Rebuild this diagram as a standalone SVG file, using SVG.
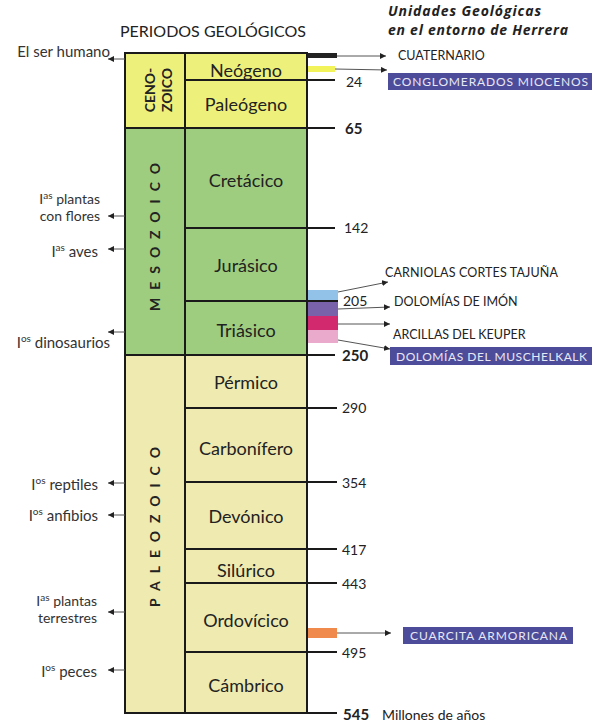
<svg xmlns="http://www.w3.org/2000/svg" width="593" height="724" viewBox="0 0 593 724">
<defs>
<marker id="ah" viewBox="0 0 6 6" refX="6" refY="3" markerWidth="6" markerHeight="6" markerUnits="userSpaceOnUse" orient="auto"><path d="M0,0 L6,3 L0,6 z" fill="#222"/></marker>
<style>
text{font-family:Lato,"Open Sans","Liberation Sans",sans-serif;fill:#222}
.per{font-size:18px;text-anchor:middle}
.era{font-size:14px;font-weight:bold;text-anchor:middle}
.num{font-size:14px}
.numb{font-size:15px;font-weight:bold}
.lbl{font-size:15px;text-anchor:end;fill:#333}
.lbl2{font-size:14px;text-anchor:end;fill:#333}
.sup{font-size:10px}
.unit{font-size:12.5px;fill:#222}
.boxt{font-size:12px;fill:#e8e8f4}
.hdr{font-family:"Open Sans",Lato,sans-serif;font-size:14px;font-weight:bold;font-style:italic}
.frame{stroke:#1a1a1a;stroke-width:2;fill:none}
.tick{stroke:#1a1a1a;stroke-width:2}
.arr{stroke:#555;stroke-width:1;fill:none;marker-end:url(#ah)}
.box{fill:#4d4c9a}
</style>
</defs>
<g id="header">
<text x="213" y="37" style="font-size:16px;text-anchor:middle">PERIODOS GEOLÓGICOS</text>
<text class="hdr" x="388" y="16" textLength="153" lengthAdjust="spacing">Unidades Geológicas</text>
<text class="hdr" x="388" y="35" textLength="180" lengthAdjust="spacing">en el entorno de Herrera</text>
</g>
<g id="eras">
<rect x="125" y="53" width="182" height="75" fill="#eef07c"/>
<rect x="125" y="128" width="182" height="227" fill="#9fcd7f"/>
<rect x="125" y="355" width="182" height="358" fill="#eeeab0"/>
</g>
<g id="bars">
<rect x="307" y="53" width="30" height="5" fill="#222"/>
<rect x="307" y="66" width="28" height="6" fill="#f2f25a"/>
<rect x="308" y="290" width="30" height="11" fill="#92c2e8"/>
<rect x="308" y="302" width="30" height="14" fill="#7a62aa"/>
<rect x="308" y="316" width="30" height="14" fill="#d2286e"/>
<rect x="308" y="330" width="30" height="13" fill="#eaaacb"/>
<rect x="307" y="628" width="30" height="10" fill="#f08a4c"/>
</g>
<g id="frame">
<rect class="frame" x="125" y="53" width="182" height="660"/>
<line class="tick" x1="185" y1="53" x2="185" y2="713"/>
<line class="tick" x1="185" y1="80" x2="335" y2="80"/>
<line class="tick" x1="125" y1="128" x2="335" y2="128"/>
<line class="tick" x1="185" y1="228" x2="335" y2="228"/>
<line class="tick" x1="185" y1="301" x2="338" y2="301"/>
<line class="tick" x1="125" y1="355" x2="335" y2="355"/>
<line class="tick" x1="185" y1="408" x2="337" y2="408"/>
<line class="tick" x1="185" y1="482" x2="337" y2="482"/>
<line class="tick" x1="185" y1="549" x2="337" y2="549"/>
<line class="tick" x1="185" y1="583" x2="337" y2="583"/>
<line class="tick" x1="185" y1="652" x2="337" y2="652"/>
<line class="tick" x1="125" y1="713" x2="337" y2="713"/>
</g>
<g id="cenozoico">
<text class="era" transform="translate(155,90) rotate(-90)">CENO-</text>
<text class="era" transform="translate(172,90) rotate(-90)">ZOICO</text>
</g>
<g id="mesozoico">
<text class="era" transform="translate(160,233) rotate(-90)" style="letter-spacing:8px">MESOZOICO</text>
</g>
<g id="paleozoico">
<text class="era" transform="translate(160,523) rotate(-90)" style="letter-spacing:8px">PALEOZOICO</text>
</g>
<g id="periods">
<text class="per" x="246" y="77">Neógeno</text>
<text class="per" x="246" y="111">Paleógeno</text>
<text class="per" x="246" y="187">Cretácico</text>
<text class="per" x="246" y="272">Jurásico</text>
<text class="per" x="246" y="337">Triásico</text>
<text class="per" x="246" y="389">Pérmico</text>
<text class="per" x="246" y="455">Carbonífero</text>
<text class="per" x="246" y="523">Devónico</text>
<text class="per" x="246" y="577">Silúrico</text>
<text class="per" x="246" y="627">Ordovícico</text>
<text class="per" x="246" y="692">Cámbrico</text>
</g>
<g id="numbers">
<text class="num" x="346" y="87">24</text>
<text class="numb" x="345" y="134">65</text>
<text class="num" x="344" y="233">142</text>
<text class="num" x="343" y="306">205</text>
<text class="numb" x="342" y="361">250</text>
<text class="num" x="342" y="413">290</text>
<text class="num" x="342" y="488">354</text>
<text class="num" x="342" y="555">417</text>
<text class="num" x="342" y="589">443</text>
<text class="num" x="342" y="658">495</text>
<text class="numb" x="343" y="720">545</text>
<text class="num" x="382" y="720">Millones de años</text>
</g>
<g id="events">
<text class="lbl" x="110" y="57">El ser humano</text>
<text class="lbl2" x="100" y="204">I<tspan class="sup" dy="-5">as</tspan><tspan dy="5"> plantas</tspan></text>
<text class="lbl2" x="100" y="221">con flores</text>
<text class="lbl" x="98" y="257">I<tspan class="sup" dy="-6">as</tspan><tspan dy="6"> aves</tspan></text>
<text class="lbl" x="110" y="348">I<tspan class="sup" dy="-6">os</tspan><tspan dy="6"> dinosaurios</tspan></text>
<text class="lbl" x="98" y="490">I<tspan class="sup" dy="-6">os</tspan><tspan dy="6"> reptiles</tspan></text>
<text class="lbl" x="98" y="521">I<tspan class="sup" dy="-6">os</tspan><tspan dy="6"> anfibios</tspan></text>
<text class="lbl2" x="97" y="606">I<tspan class="sup" dy="-5">as</tspan><tspan dy="5"> plantas</tspan></text>
<text class="lbl2" x="97" y="623">terrestres</text>
<text class="lbl" x="97" y="677">I<tspan class="sup" dy="-6">os</tspan><tspan dy="6"> peces</tspan></text>
</g>
<g id="units">
<text class="unit" x="398" y="60">CUATERNARIO</text>
<rect class="box" x="388" y="73" width="204" height="17"/>
<text class="boxt" x="393" y="86" textLength="195" lengthAdjust="spacing">CONGLOMERADOS MIOCENOS</text>
<text class="unit" x="385" y="277" textLength="173" lengthAdjust="spacing">CARNIOLAS CORTES TAJUÑA</text>
<text class="unit" x="394" y="306">DOLOMÍAS DE IMÓN</text>
<text class="unit" x="393" y="339">ARCILLAS DEL KEUPER</text>
<rect class="box" x="390" y="347" width="202" height="18"/>
<text class="boxt" x="396" y="361" textLength="191" lengthAdjust="spacing">DOLOMÍAS DEL MUSCHELKALK</text>
<rect class="box" x="403" y="627" width="170" height="17"/>
<text class="boxt" x="410" y="640" textLength="157" lengthAdjust="spacing">CUARCITA ARMORICANA</text>
</g>
<g id="connectors">
<line class="arr" x1="125" y1="59" x2="108" y2="59"/>
<line class="arr" x1="125" y1="216" x2="108" y2="216"/>
<line class="arr" x1="125" y1="249" x2="108" y2="249"/>
<line class="arr" x1="125" y1="332" x2="108" y2="332"/>
<line class="arr" x1="125" y1="483" x2="108" y2="483"/>
<line class="arr" x1="125" y1="515" x2="108" y2="515"/>
<line class="arr" x1="125" y1="612" x2="108" y2="612"/>
<line class="arr" x1="125" y1="670" x2="108" y2="670"/>
<line class="arr" x1="337" y1="56" x2="386" y2="56"/>
<line class="arr" x1="335" y1="69" x2="387" y2="70"/>
<line class="arr" x1="338" y1="292" x2="388" y2="282"/>
<line class="arr" x1="338" y1="309" x2="390" y2="307"/>
<line class="arr" x1="338" y1="324" x2="390" y2="324"/>
<line class="arr" x1="338" y1="340" x2="390" y2="349"/>
<line class="arr" x1="337" y1="633" x2="391" y2="633"/>
</g>
</svg>
